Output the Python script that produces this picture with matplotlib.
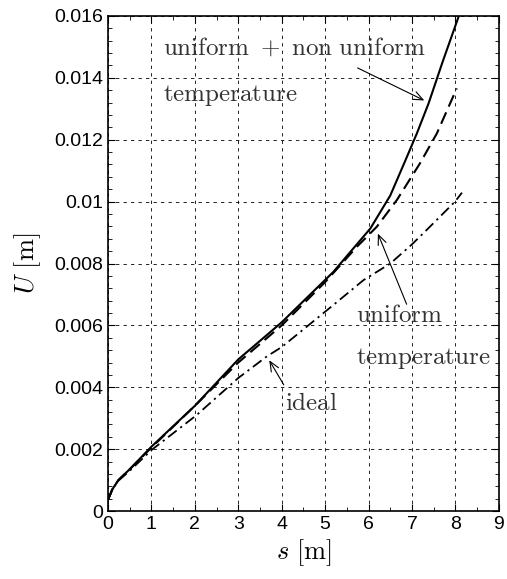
import numpy as np
import matplotlib.pyplot as plt
from matplotlib.ticker import MultipleLocator

plt.rcParams['mathtext.fontset'] = 'cm'
plt.rcParams['font.family'] = ['Liberation Sans', 'DejaVu Sans']

# solid: uniform + non uniform temperature
s_full = [0.0, 0.1, 0.24, 0.5, 1.0, 2.0, 3.0, 4.0, 5.19, 5.65, 6.04, 6.5, 6.85, 7.11, 7.38, 7.7, 8.07]
u_full = [0.00036, 0.0007, 0.001, 0.00135, 0.00208, 0.0034, 0.0049, 0.0061, 0.00773,
          0.00849, 0.00913, 0.0102, 0.01134, 0.0122, 0.01317, 0.0145, 0.01597]
# dashed: uniform temperature
s_unif = [0.0, 0.1, 0.24, 0.5, 1.0, 2.0, 3.0, 4.0, 5.0, 5.73, 6.19, 6.65, 7.18, 7.57, 8.03]
u_unif = [0.00036, 0.0007, 0.001, 0.00135, 0.00205, 0.0034, 0.0048, 0.0060, 0.0074,
          0.00854, 0.00919, 0.01005, 0.01123, 0.0122, 0.01366]
# dash-dot: ideal
s_ideal = [0.0, 0.1, 0.24, 0.5, 1.0, 2.04, 3.0, 3.66, 4.0, 5.19, 5.88, 6.5, 7.0, 7.42, 7.99, 8.15]
u_ideal = [0.00036, 0.0007, 0.00098, 0.0013, 0.00197, 0.0031, 0.0043, 0.0050, 0.0053,
           0.00666, 0.00746, 0.0080, 0.00862, 0.0092, 0.0100, 0.01029]

fig = plt.figure(figsize=(5.07, 5.79), dpi=100)
ax = fig.add_axes([0.213, 0.1174, 0.771, 0.855])

ax.plot(s_full, u_full, color='black', lw=1.5)
ax.plot(s_unif, u_unif, color='black', lw=1.5, ls=(0, (6, 3)))
ax.plot(s_ideal, u_ideal, color='black', lw=1.3, ls=(0, (6, 2.5, 1.2, 2.5)))

ax.set_xlim(0, 9)
ax.set_ylim(0, 0.016)
ax.xaxis.set_major_locator(MultipleLocator(1))
ax.xaxis.set_minor_locator(MultipleLocator(0.5))
ax.yaxis.set_minor_locator(MultipleLocator(0.0004))
ax.set_yticks([0, 0.002, 0.004, 0.006, 0.008, 0.01, 0.012, 0.014, 0.016])
ax.set_yticklabels(['0', '0.002', '0.004', '0.006', '0.008', '0.01', '0.012', '0.014', '0.016'])
ax.tick_params(which='both', direction='in', top=True, right=True, labelsize=14)
ax.tick_params(which='major', length=5)
ax.tick_params(which='minor', length=3)
for sp in ax.spines.values():
    sp.set_linewidth(1.2)
ax.grid(True, which='major', color='black', ls=(0, (4, 5)), lw=0.6)

ax.set_xlabel(r'$s\ [\mathrm{m}]$', fontsize=19, labelpad=3)
ax.set_ylabel(r'$U\ [\mathrm{m}]$', fontsize=19, labelpad=8)

tc = '#333333'
fs = 18
arrow = dict(arrowstyle='->,head_length=0.7,head_width=0.3', color='black', lw=0.8)
ax.text(1.27, 0.01499, r'$\mathrm{uniform}\ +\ \mathrm{non\ uniform}$', fontsize=fs, color=tc, va='center')
ax.text(1.27, 0.01344, r'$\mathrm{temperature}$', fontsize=fs, color=tc, va='center')
ax.annotate('', xy=(7.34, 0.01323), xytext=(5.69, 0.01436), arrowprops=arrow)

ax.text(5.72, 0.00633, r'$\mathrm{uniform}$', fontsize=fs, color=tc, va='center')
ax.text(5.72, 0.00494, r'$\mathrm{temperature}$', fontsize=fs, color=tc, va='center')
ax.annotate('', xy=(6.19, 0.00905), xytext=(6.9, 0.0066), arrowprops=arrow)

ax.text(4.07, 0.00349, r'$\mathrm{ideal}$', fontsize=fs, color=tc, va='center')
ax.annotate('', xy=(3.68, 0.00495), xytext=(4.08, 0.004), arrowprops=arrow)

fig.savefig('out.png', dpi=100)
